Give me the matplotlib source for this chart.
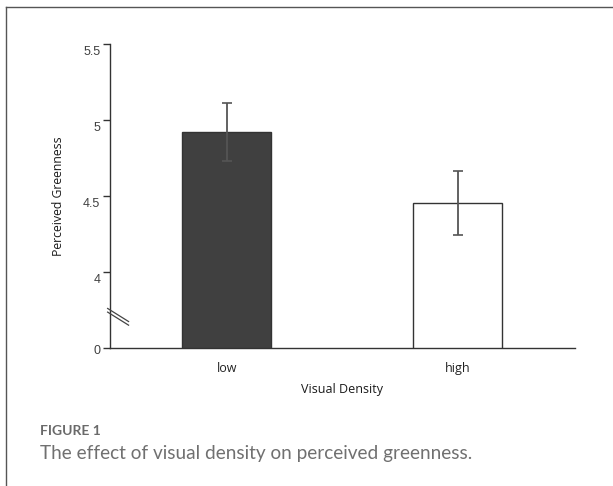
import matplotlib.pyplot as plt
import matplotlib.transforms as mtransforms
from matplotlib.lines import Line2D

# data (y axis is broken between 0 and 4)
categories = ['low', 'high']
means = [4.92, 4.455]
errors = [0.19, 0.21]
bar_colors = ['#404040', 'white']
ytick_values = [3.5, 4, 4.5, 5, 5.5]
ytick_labels = ['0', '4', '4.5', '5', '5.5']

fig = plt.figure(figsize=(6.13, 4.86), dpi=100)
ax = fig.add_axes([0.1794, 0.284, 0.7586, 0.6255])

x = range(len(categories))
ax.bar(x, means, width=0.385, color=bar_colors, edgecolor='#333333',
       linewidth=1.0, zorder=2)
ax.errorbar(x, means, yerr=errors, fmt='none', ecolor='#555555',
            elinewidth=1.3, capsize=3.5, capthick=1.2, zorder=3)

ax.set_xlim(-0.505, 1.508)
ax.set_ylim(3.5, 5.5)
ax.set_yticks(ytick_values)
ax.set_yticklabels(ytick_labels, fontfamily='Liberation Sans', fontsize=9,
                   color='#404040')
ax.set_xticks(list(x))
ax.set_xticklabels(categories, fontfamily='Open Sans', fontsize=9,
                   color='#222222')
ax.tick_params(axis='x', length=0, pad=10)
ax.tick_params(axis='y', length=5, width=1, color='#333333', pad=2)
ax.spines['top'].set_visible(False)
ax.spines['right'].set_visible(False)
for s in ['left', 'bottom']:
    ax.spines[s].set_color('#333333')
    ax.spines[s].set_linewidth(1.0)

# in the original the y labels sit a little below their ticks
for i, lbl in enumerate(ax.get_yticklabels()):
    dy = -2 if i == 0 else -7
    lbl.set_transform(lbl.get_transform() + mtransforms.ScaledTranslation(
        0, dy / 100, fig.dpi_scale_trans))

ax.set_ylabel('Perceived Greenness', fontfamily='Open Sans', fontsize=8.8,
              color='#1a1a1a', labelpad=13)
ax.set_xlabel('Visual Density', fontfamily='Open Sans', fontsize=9,
              color='#1a1a1a', labelpad=6)

# axis break mark
for dy in (0.0, 0.012):
    ax.plot([-0.005, 0.04], [0.118 + dy, 0.075 + dy], transform=ax.transAxes,
            color='#444444', linewidth=0.9, clip_on=False, zorder=4)

# frame of the figure panel
fig.add_artist(Line2D([6 / 613, 1.0], [1 - 7 / 486, 1 - 7 / 486],
                      transform=fig.transFigure, color='#555555', linewidth=1))
fig.add_artist(Line2D([6 / 613, 6 / 613], [0, 1 - 7 / 486],
                      transform=fig.transFigure, color='#555555', linewidth=1))

fig.text(40 / 613, 1 - 431 / 486, 'FIGURE 1', fontfamily='Lato', fontsize=10,
         fontweight='bold', color='#6a6a6a', va='center')
fig.text(40 / 613, 1 - 453 / 486,
         'The effect of visual density on perceived greenness.',
         fontfamily='Lato', fontsize=13.7, color='#707070', va='center')

fig.savefig('out.png', dpi=100)
